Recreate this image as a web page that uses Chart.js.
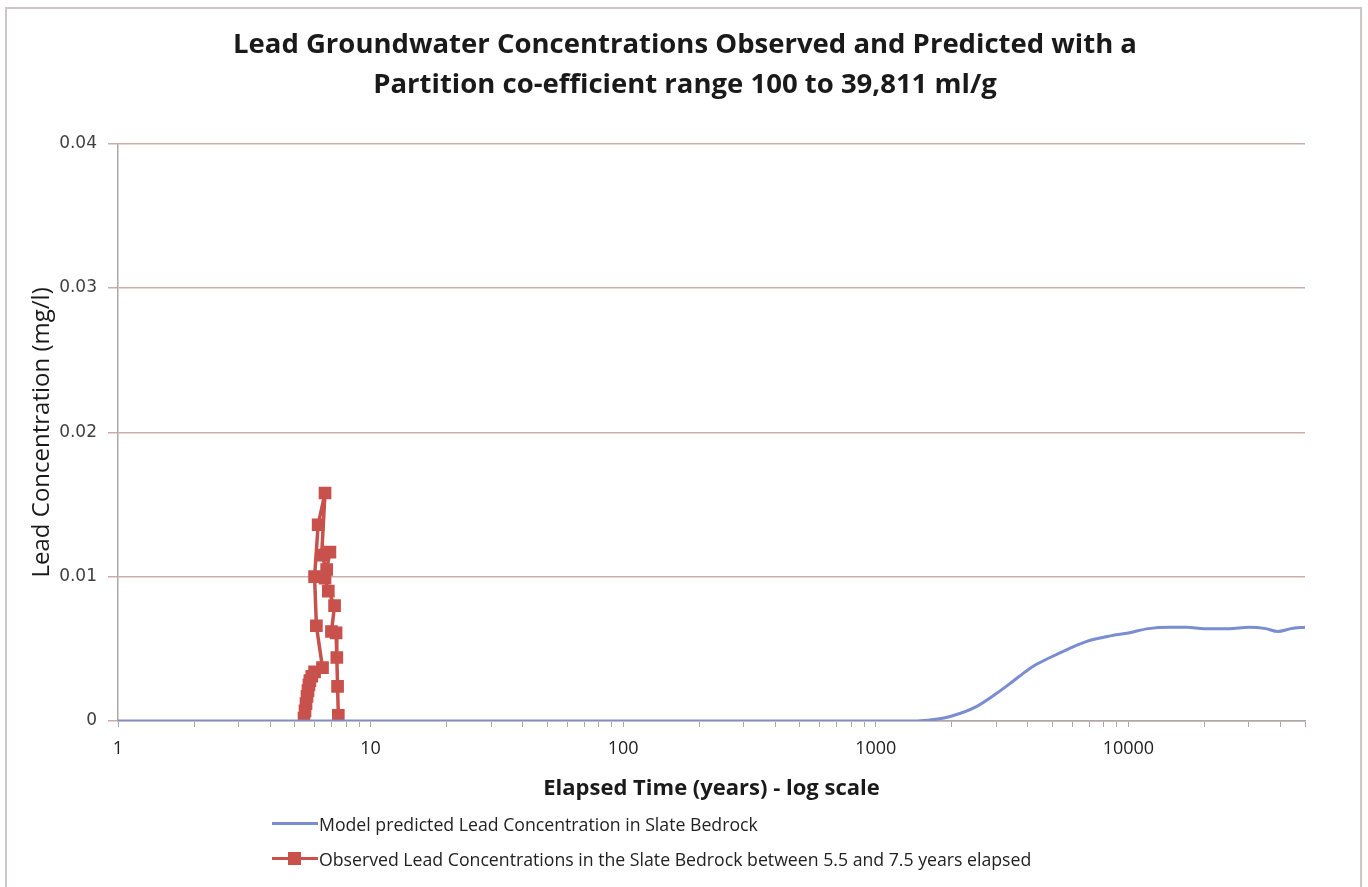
<!DOCTYPE html>
<html>
<head>
<meta charset="utf-8">
<script src="https://cdn.jsdelivr.net/npm/chart.js@4"></script>
<style>
  html, body { margin: 0; padding: 0; background: #fff; }
  #wrap { position: relative; width: 1368px; height: 887px; overflow: hidden; }
  #frame { position: absolute; left: 5px; top: 7px; width: 1353px; height: 900px; border: 2px solid #cfc6c6; }
  canvas { position: absolute; left: 0; top: 0; }
  #legend { position: absolute; left: 272px; top: 806px; font-family: "Open Sans", sans-serif; font-size: 17.7px; color: #222; }
  .item { height: 35px; display: flex; align-items: center; }
  .swatch { position: relative; width: 46px; height: 13px; margin-right: 1px; }
  .swatch .ln { position: absolute; left: 0; right: 0; top: 5px; height: 3px; }
  .swatch .mk { position: absolute; left: 16px; top: 0; width: 13px; height: 13px; }
</style>
</head>
<body>
<div id="wrap">
  <div id="frame"></div>
  <canvas id="chart" width="1368" height="887"></canvas>
  <div id="legend"></div>
</div>
<script>
// Chart data
const titleLines = [
  'Lead Groundwater Concentrations Observed and Predicted with a',
  'Partition co-efficient range 100 to 39,811 ml/g'
];
const xAxisTitle = 'Elapsed Time (years) - log scale';
const yAxisTitle = 'Lead Concentration (mg/l)';

const seriesNames = [
  'Model predicted Lead Concentration in Slate Bedrock',
  'Observed Lead Concentrations in the Slate Bedrock between 5.5 and 7.5 years elapsed'
];

// model prediction (years, mg/l)
const modelTimes = [1, 10, 100, 1000, 1300, 1500, 1700, 2000, 2500, 3000, 3400, 3700, 4200, 4900, 5800, 6800,
  8500, 10000, 12000, 14500, 17000, 20000, 25000, 30000, 35000, 39000, 44000, 50000];
const modelConc = [0, 0, 0, 0, 0, 0.00002, 0.0001, 0.00035, 0.001, 0.0019, 0.0026, 0.0031, 0.0038, 0.0044, 0.0050, 0.0055,
  0.0059, 0.0061, 0.0064, 0.0065, 0.0065, 0.0064, 0.0064, 0.0065, 0.0064, 0.0062, 0.0064, 0.0065];

// observed (years, mg/l)
const obsTimes = [5.45, 5.5, 5.55, 5.6, 5.65, 5.7, 5.75, 5.85, 6.0, 6.45, 6.1, 6.0, 6.2, 6.6, 6.4, 6.7,
  6.9, 6.6, 6.8, 7.2, 7.0, 7.3, 7.35, 7.4, 7.45];
const obsConc = [0.0002, 0.0007, 0.0012, 0.0017, 0.0021, 0.0025, 0.0028, 0.0031, 0.0034, 0.0037, 0.0066, 0.0100,
  0.0136, 0.0158, 0.0115, 0.0105, 0.0117, 0.0099, 0.0090, 0.0080, 0.0062, 0.0061, 0.0044, 0.0024, 0.0004];

const xDecades = [1, 10, 100, 1000, 10000];
const xDecadeLabels = ['1', '10', '100', '1000', '10000'];
const xMax = 50000;
const yTicks = [0, 0.01, 0.02, 0.03, 0.04];
const yTickLabels = ['0', '0.01', '0.02', '0.03', '0.04'];

const blue = '#7a8dd0';
const red = '#c9514c';
const gridColor = '#c9aeaa';
const axisColor = '#b0a8a8';

// tick positions for log axis: 1..9 x each decade
function logTickValues() {
  const vals = [];
  xDecades.forEach(d => {
    for (let m = 1; m <= 9; m++) {
      const v = d * m;
      if (v <= xMax) vals.push(v);
    }
  });
  return vals;
}

const ctx = document.getElementById('chart').getContext('2d');
new Chart(ctx, {
  type: 'line',
  data: {
    datasets: [{
      label: seriesNames[0],
      data: modelTimes.map((t, i) => ({ x: t, y: modelConc[i] })),
      borderColor: blue,
      backgroundColor: blue,
      borderWidth: 3,
      pointRadius: 0,
      cubicInterpolationMode: 'monotone'
    }, {
      label: seriesNames[1],
      data: obsTimes.map((t, i) => ({ x: t, y: obsConc[i] })),
      borderColor: red,
      backgroundColor: red,
      borderWidth: 3.5,
      pointStyle: 'rect',
      pointRadius: 6.5,
      tension: 0
    }]
  },
  options: {
    responsive: false,
    animation: false,
    layout: { padding: { left: 26, right: 24, top: 0, bottom: 85 } },
    plugins: {
      legend: { display: false },
      tooltip: { enabled: false },
      title: {
        display: true,
        text: titleLines,
        color: '#1a1a1a',
        font: { family: 'Open Sans', size: 27.5, weight: 'bold', lineHeight: 1.45 },
        padding: { top: 25, bottom: 39 }
      }
    },
    scales: {
      x: {
        type: 'logarithmic',
        min: 1,
        max: xMax,
        afterBuildTicks: scale => {
          scale.ticks = logTickValues().map(v => ({ value: v }));
        },
        afterFit: scale => { scale.height = 81; },
        ticks: {
          autoSkip: false,
          maxRotation: 0,
          color: '#222',
          font: { family: 'Open Sans', size: 18 },
          padding: 11,
          callback: (value) => {
            const i = xDecades.indexOf(value);
            return i >= 0 ? xDecadeLabels[i] : '';
          }
        },
        grid: { drawOnChartArea: false, color: axisColor, tickLength: 6 },
        border: { color: axisColor, width: 1.5 },
        title: {
          display: true,
          text: xAxisTitle,
          color: '#1a1a1a',
          font: { family: 'Open Sans', size: 22, weight: 'bold' },
          padding: { top: 4, bottom: 0 }
        }
      },
      y: {
        min: 0,
        max: 0.04,
        afterBuildTicks: scale => {
          scale.ticks = yTicks.map(v => ({ value: v }));
        },
        afterFit: scale => { scale.width = 92; },
        ticks: {
          color: '#404040',
          font: { family: 'DejaVu Sans', size: 17 },
          padding: 11,
          callback: (value) => {
            const i = yTicks.indexOf(value);
            return i >= 0 ? yTickLabels[i] : '';
          }
        },
        grid: { color: gridColor, lineWidth: 1.5, tickLength: 10 },
        border: { color: axisColor, width: 1.5 },
        title: {
          display: true,
          text: yAxisTitle,
          color: '#1a1a1a',
          font: { family: 'Open Sans', size: 24 },
          padding: { top: 2, bottom: 0 }
        }
      },
      // empty right-hand axis so the plot ends where the reference does
      yRight: {
        position: 'right',
        display: true,
        ticks: { display: false },
        grid: { display: false },
        border: { display: false },
        afterFit: scale => { scale.width = 39; }
      }
    }
  }
});

// legend below the axis title
const legend = document.getElementById('legend');
legend.innerHTML = seriesNames.map((name, i) =>
  '<div class="item"><span class="swatch">' +
  `<span class="ln" style="background:${i === 0 ? blue : red}"></span>` +
  (i === 1 ? `<span class="mk" style="background:${red}"></span>` : '') +
  `</span><span>${name}</span></div>`
).join('');
</script>
</body>
</html>
